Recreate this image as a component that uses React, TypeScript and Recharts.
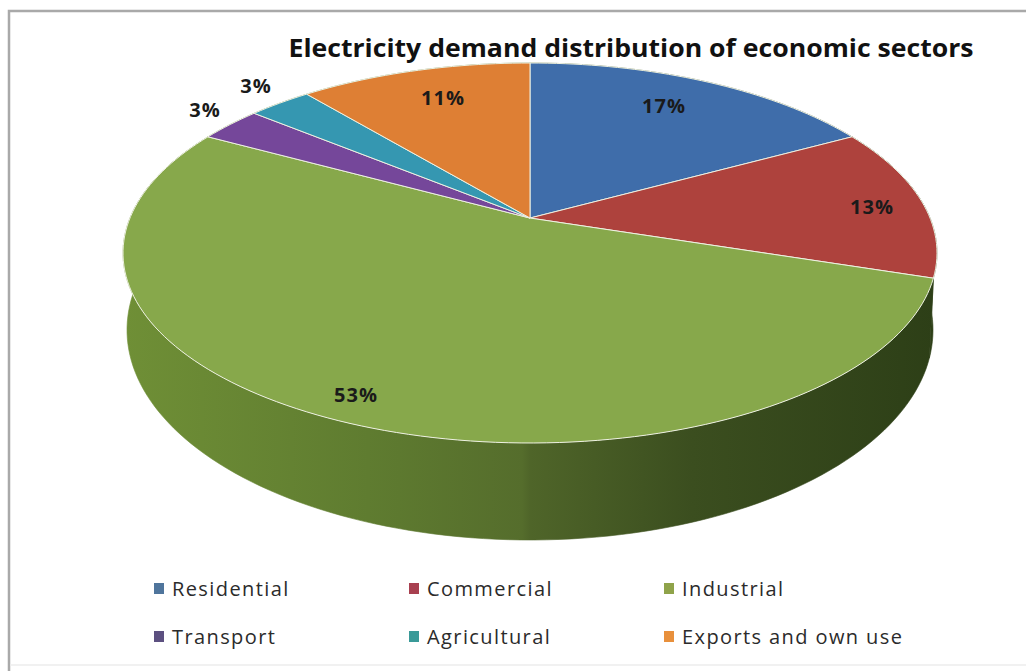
import { Legend, Pie, PieChart } from "recharts";

const sectors = ["Residential", "Commercial", "Industrial", "Transport", "Agricultural", "Exports and own use"];
const shares = [17, 13, 53, 3, 3, 11];
const faceColors = ["#3f6daa", "#ae423d", "#87a84b", "#75479a", "#3597b1", "#de7f34"];
const swatchColors = ["#4f759c", "#a84050", "#8fa34a", "#5c5080", "#3a9a98", "#e8903c"];

// hand-placed label anchors, same order as sectors
const labelSpots = [
  [664, 105],
  [872, 206],
  [356, 394],
  [205, 109],
  [256, 85],
  [443, 97],
];

const faceData = sectors.map((name, i) => ({ name, value: shares[i], fill: faceColors[i] }));
// only the front of the drum ever shows, and that front is the Industrial slice
const wallData = sectors.map((name, i) => ({ name, value: shares[i], fill: "url(#industrialWall)" }));

const WIDTH = 1026;
const HEIGHT = 671;
const FONT = '"Open Sans", sans-serif';

// top disc and the bottom rim of the drum, both ellipses
const FACE = { cx: 530, cy: 253, rx: 407, ry: 190 };
const RIM_SQUASH = 210 / 403;
// moves the hub of the disc toward the back edge, as a perspective view does
const HUB_SHIFT = -0.184;

type Ellipse = { cx: number; cy: number; rx: number; ry: number };

function project(deg: number, e: Ellipse) {
  const rad = (deg * Math.PI) / 180;
  const u = Math.cos(rad);
  const v = -Math.sin(rad);
  const w = 1 + HUB_SHIFT * v;
  return {
    x: e.cx + (e.rx * u * Math.sqrt(1 - HUB_SHIFT * HUB_SHIFT)) / w,
    y: e.cy + (e.ry * (v + HUB_SHIFT)) / w,
  };
}

function arcPoints(from: number, to: number, e: Ellipse) {
  const steps = Math.max(2, Math.ceil(Math.abs(to - from) / 1.5));
  const pts = [];
  for (let i = 0; i <= steps; i++) {
    const p = project(from + ((to - from) * i) / steps, e);
    pts.push(`${p.x.toFixed(2)} ${p.y.toFixed(2)}`);
  }
  return pts;
}

function FaceSlice(props: any) {
  const { startAngle, endAngle, fill } = props;
  const hubY = FACE.cy + FACE.ry * HUB_SHIFT;
  const d = `M ${FACE.cx} ${hubY} L ${arcPoints(startAngle, endAngle, FACE).join(" L ")} Z`;
  return <path d={d} fill={fill} stroke="#eef1e2" strokeWidth={1} strokeLinejoin="round" />;
}

function WallSlice(props: any) {
  const { cx, cy, outerRadius, startAngle, endAngle, fill } = props;
  const rim = { cx, cy, rx: outerRadius, ry: outerRadius * RIM_SQUASH };
  const top = arcPoints(startAngle, endAngle, FACE);
  const bottom = arcPoints(endAngle, startAngle, rim);
  return <path d={`M ${top.join(" L ")} L ${bottom.join(" L ")} Z`} fill={fill} stroke={fill} strokeWidth={0.6} />;
}

function renderShare(props: any) {
  const [x, y] = labelSpots[props.index];
  return (
    <text
      x={x}
      y={y}
      textAnchor="middle"
      dominantBaseline="central"
      fontFamily={FONT}
      fontWeight={700}
      fontSize={20}
      letterSpacing={1}
      fill="#1a1a1a"
    >
      {`${props.value}%`}
    </text>
  );
}

function renderLegend() {
  return (
    <div style={{ display: "grid", gridTemplateColumns: "255px 255px 255px", gridAutoRows: "48px" }}>
      {sectors.map((name, i) => (
        <div key={name} style={{ display: "flex", alignItems: "center", height: 24 }}>
          <span style={{ width: 10, height: 11, background: swatchColors[i], marginRight: 8 }} />
          <span style={{ fontFamily: FONT, fontSize: 20, color: "#2b2b2b", letterSpacing: 1.4 }}>{name}</span>
        </div>
      ))}
    </div>
  );
}

export default function App() {
  return (
    <div style={{ position: "absolute", left: 0, top: 0, width: WIDTH, height: HEIGHT, background: "#fff" }}>
      <PieChart width={WIDTH} height={HEIGHT} margin={{ top: 0, right: 0, bottom: 0, left: 0 }}>
        <defs>
          <linearGradient id="industrialWall" gradientUnits="userSpaceOnUse" x1={125} y1={0} x2={935} y2={0}>
            <stop offset="0" stopColor="#6f8f36" />
            <stop offset="0.3" stopColor="#5f7c30" />
            <stop offset="0.49" stopColor="#556d2c" />
            <stop offset="0.5" stopColor="#4f6529" />
            <stop offset="0.7" stopColor="#3b4e1f" />
            <stop offset="1" stopColor="#2d3f17" />
          </linearGradient>
        </defs>
        {/* frame: the top and left edges are solid, the bottom one barely there */}
        <path d="M 9 671 L 9 11 L 1026 11" fill="none" stroke="#a9a9a9" strokeWidth={2.5} />
        <path d="M 10 665 L 1026 665" fill="none" stroke="#ececec" strokeWidth={1.5} />
        <text
          x={631}
          y={47}
          textAnchor="middle"
          dominantBaseline="central"
          fontFamily={FONT}
          fontWeight={700}
          fontSize={25}
          fill="#111"
          textLength={685}
          lengthAdjust="spacingAndGlyphs"
        >
          Electricity demand distribution of economic sectors
        </text>
        <Pie
          data={wallData}
          dataKey="value"
          nameKey="name"
          cx={530}
          cy={330}
          outerRadius={403}
          startAngle={90}
          endAngle={-270}
          stroke="none"
          legendType="none"
          shape={WallSlice}
          isAnimationActive={false}
        />
        <Pie
          data={faceData}
          dataKey="value"
          nameKey="name"
          cx={FACE.cx}
          cy={FACE.cy}
          outerRadius={FACE.rx}
          startAngle={90}
          endAngle={-270}
          shape={FaceSlice}
          label={renderShare}
          labelLine={false}
          isAnimationActive={false}
        />
        <Legend
          content={renderLegend}
          wrapperStyle={{ position: "absolute", left: 154, top: 576, width: 780, bottom: "auto" }}
        />
      </PieChart>
    </div>
  );
}
